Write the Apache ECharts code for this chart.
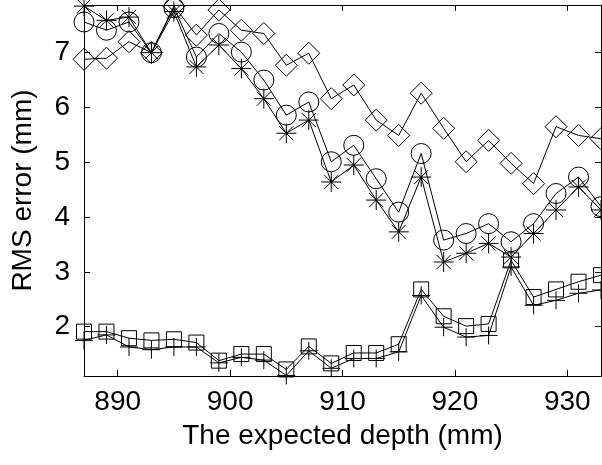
<!DOCTYPE html>
<html>
<head>
<meta charset="utf-8">
<script src="https://cdn.jsdelivr.net/npm/echarts@6/dist/echarts.min.js"></script>
<style>
  html, body { margin: 0; padding: 0; background: #fff; }
  #chart { width: 602px; height: 465px; }
</style>
</head>
<body>
<div id="chart"></div>
<script>
// expected depth (mm), one point every 2 mm
var depth = [887, 889, 891, 893, 895, 897, 899, 901, 903, 905, 907, 909,
             911, 913, 915, 917, 919, 921, 923, 925, 927, 929, 931, 933];
// RMS error (mm) per marker style
var diamondVals = [6.88, 6.90, 7.20, 7.00, 7.85, 7.32, 7.78, 7.41, 7.35, 6.77, 6.99, 6.16,
                   6.41, 5.77, 5.49, 6.26, 5.62, 5.01, 5.40, 4.98, 4.61, 5.65, 5.49, 5.43];
var circleVals = [7.56, 7.41, 7.56, 7.00, 7.82, 6.92, 7.35, 7.01, 6.50, 5.86, 6.10, 5.01,
                  5.31, 4.70, 4.09, 5.16, 3.58, 3.70, 3.88, 3.55, 3.88, 4.43, 4.73, 4.19];
var starVals = [7.85, 7.59, 7.65, 7.00, 7.75, 6.74, 7.14, 6.71, 6.16, 5.53, 5.77, 4.64,
                4.95, 4.31, 3.73, 4.73, 3.18, 3.34, 3.52, 3.27, 3.70, 4.13, 4.55, 4.13];
var squareVals = [1.91, 1.91, 1.79, 1.75, 1.77, 1.71, 1.38, 1.50, 1.50, 1.22, 1.64, 1.33,
                  1.52, 1.52, 1.68, 2.68, 2.19, 2.01, 2.05, 3.21, 2.54, 2.68, 2.82, 2.94];
var plusVals = [1.75, 1.85, 1.63, 1.58, 1.63, 1.63, 1.34, 1.44, 1.39, 1.11, 1.56, 1.24,
                1.42, 1.42, 1.54, 2.57, 1.99, 1.81, 1.84, 3.09, 2.39, 2.48, 2.61, 2.67];
var xTicks = [890, 900, 910, 920, 930];
var yTicks = [2, 3, 4, 5, 6, 7];

var FONT = 'Liberation Sans, Arial, sans-serif';
var STAR = 'path://M0 -10 L0 10 M-10 0 L10 0 M-7.07 -7.07 L7.07 7.07 M-7.07 7.07 L7.07 -7.07';
var PLUS = 'path://M0 -10 L0 10 M-10 0 L10 0';

function pairs(vals) {
	var out = [];
	for (var i = 0; i < depth.length; i++) {
		out.push([depth[i], vals[i]]);
	}
	return out;
}

function makeSeries(vals, symbol, size) {
	return {
		type : 'line',
		data : pairs(vals),
		symbol : symbol,
		symbolSize : size,
		showAllSymbol : true,
		clip : false,
		animation : false,
		lineStyle : { color : '#000', width : 1 },
		itemStyle : { color : 'none', borderColor : '#000', borderWidth : 1 }
	};
}

var lineAxis = { show : true, lineStyle : { color : '#000', width : 1 } };

var option = {
	backgroundColor : '#fff',
	animation : false,
	grid : { left : 84, right : 1, top : 5, bottom : 89 },
	xAxis : [
		{
			type : 'value', min : 887, max : 933,
			axisLine : lineAxis,
			axisTick : { inside : true, length : 6, customValues : xTicks, lineStyle : { color : '#000' } },
			axisLabel : { customValues : xTicks, color : '#000', fontSize : 28, fontFamily : FONT, margin : 12 },
			splitLine : { show : false },
			name : 'The expected depth (mm)',
			nameLocation : 'middle',
			nameGap : 46,
			nameTextStyle : { color : '#000', fontSize : 28, fontFamily : FONT }
		},
		{
			type : 'value', position : 'top', min : 887, max : 933,
			axisLine : lineAxis,
			axisTick : { inside : true, length : 6, customValues : xTicks, lineStyle : { color : '#000' } },
			axisLabel : { show : false },
			splitLine : { show : false }
		}
	],
	yAxis : [
		{
			type : 'value', min : 1.1, max : 7.87,
			axisLine : lineAxis,
			axisTick : { inside : true, length : 6, customValues : yTicks, lineStyle : { color : '#000' } },
			axisLabel : { customValues : yTicks, color : '#000', fontSize : 28, fontFamily : FONT, margin : 14 },
			splitLine : { show : false },
			name : 'RMS error (mm)',
			nameLocation : 'middle',
			nameGap : 47,
			nameTextStyle : { color : '#000', fontSize : 28, fontFamily : FONT }
		},
		{
			type : 'value', position : 'right', min : 1.1, max : 7.87,
			axisLine : lineAxis,
			axisTick : { inside : true, length : 6, customValues : yTicks, lineStyle : { color : '#000' } },
			axisLabel : { show : false },
			splitLine : { show : false }
		}
	],
	series : [
		makeSeries(diamondVals, 'diamond', 22),
		makeSeries(circleVals, 'circle', 20),
		makeSeries(starVals, STAR, 20),
		makeSeries(squareVals, 'rect', 15),
		makeSeries(plusVals, PLUS, 18)
	]
};

var chart = echarts.init(document.getElementById('chart'), null, { renderer : 'canvas' });
chart.setOption(option);
</script>
</body>
</html>
